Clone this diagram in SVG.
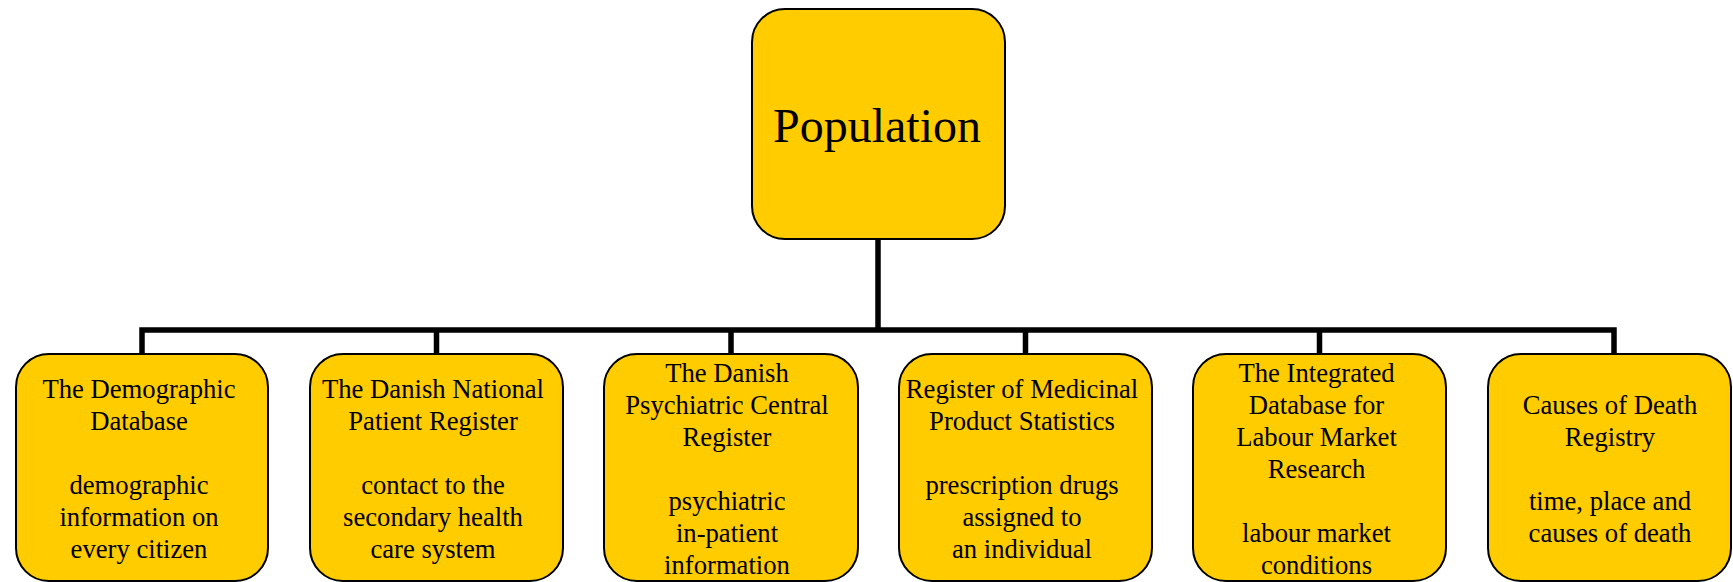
<svg xmlns="http://www.w3.org/2000/svg" width="1733" height="582" viewBox="0 0 1733 582">
<style>
.box{fill:#FFCC00;stroke:#000;stroke-width:2}
.t{font-family:"Liberation Serif","Times New Roman",serif;font-size:26.67px;fill:#000;text-anchor:middle}
.big{font-family:"Liberation Serif","Times New Roman",serif;font-size:48px;fill:#000;text-anchor:middle}
.c{fill:none;stroke:#000;stroke-width:5.5;stroke-linecap:butt;stroke-linejoin:miter}
</style>
<rect width="1733" height="582" fill="#fff"/>
<g id="connectors">
<path class="c" d="M878 238 V330"/>
<path class="c" d="M142 354 V330 H1614 V354"/>
<path class="c" d="M436.5 330 V354 M731 330 V354 M1025.5 330 V354 M1319.5 330 V354"/>
</g>
<g id="population">
<rect class="box" x="752" y="9" width="253" height="230" rx="33" ry="33"/>
<text class="big" x="877" y="142">Population</text>
</g>
<g id="demographic">
<rect class="box" x="16" y="354" width="252" height="227" rx="33" ry="33"/>
<text class="t" x="139"><tspan x="139" y="398">The Demographic</tspan><tspan x="139" y="430">Database</tspan><tspan x="139" y="494">demographic</tspan><tspan x="139" y="526">information on</tspan><tspan x="139" y="558">every citizen</tspan></text>
</g>
<g id="patient">
<rect class="box" x="310" y="354" width="253" height="227" rx="33" ry="33"/>
<text class="t"><tspan x="433" y="398">The Danish National</tspan><tspan x="433" y="430">Patient Register</tspan><tspan x="433" y="494">contact to the</tspan><tspan x="433" y="526">secondary health</tspan><tspan x="433" y="558">care system</tspan></text>
</g>
<g id="psychiatric">
<rect class="box" x="604" y="354" width="254" height="227" rx="33" ry="33"/>
<text class="t"><tspan x="727" y="382">The Danish</tspan><tspan x="727" y="414">Psychiatric Central</tspan><tspan x="727" y="446">Register</tspan><tspan x="727" y="510">psychiatric</tspan><tspan x="727" y="542">in-patient</tspan><tspan x="727" y="574">information</tspan></text>
</g>
<g id="medicinal">
<rect class="box" x="899" y="354" width="253" height="227" rx="33" ry="33"/>
<text class="t"><tspan x="1022" y="398">Register of Medicinal</tspan><tspan x="1022" y="430">Product Statistics</tspan><tspan x="1022" y="494">prescription drugs</tspan><tspan x="1022" y="526">assigned to</tspan><tspan x="1022" y="558">an individual</tspan></text>
</g>
<g id="labour">
<rect class="box" x="1193" y="354" width="253" height="227" rx="33" ry="33"/>
<text class="t"><tspan x="1316.5" y="382">The Integrated</tspan><tspan x="1316.5" y="414">Database for</tspan><tspan x="1316.5" y="446">Labour Market</tspan><tspan x="1316.5" y="478">Research</tspan><tspan x="1316.5" y="542">labour market</tspan><tspan x="1316.5" y="574">conditions</tspan></text>
</g>
<g id="death">
<rect class="box" x="1488" y="354" width="243" height="227" rx="33" ry="33"/>
<text class="t"><tspan x="1610" y="414">Causes of Death</tspan><tspan x="1610" y="446">Registry</tspan><tspan x="1610" y="510">time, place and</tspan><tspan x="1610" y="542">causes of death</tspan></text>
</g>
</svg>
